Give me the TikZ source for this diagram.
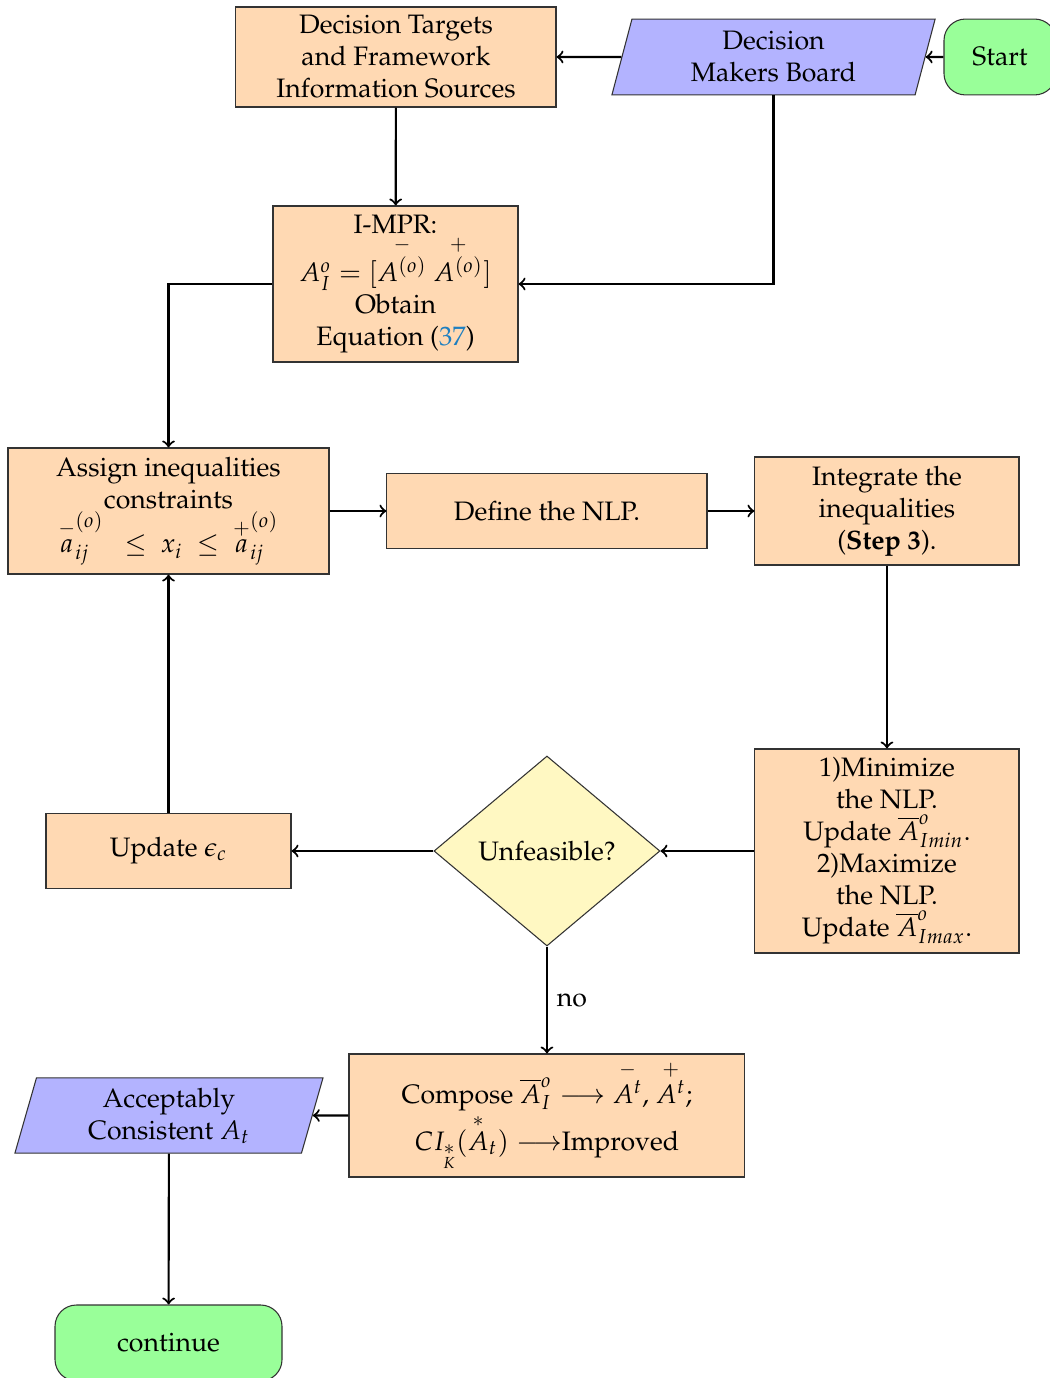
\documentclass[tikz,border=0pt]{standalone}
\usepackage[T1]{fontenc}
\usepackage{mathpazo}
\usepackage{amsmath}
\usepackage{xcolor}
\usepackage{tikz}
\usetikzlibrary{positioning, calc, shapes.geometric}
\definecolor{procfill}{HTML}{FFD9B3}
\definecolor{iofill}  {HTML}{B3B3FF}
\definecolor{termfill}{HTML}{99FF99}
\definecolor{decfill} {HTML}{FFF8C2}
\definecolor{linkblue}{HTML}{1E7FC0}
\tikzset{
  procbox/.style={
    draw=black!80, rectangle, fill=procfill,
    align=center, inner sep=2pt
  },
  iobox/.style={
    draw=black!80, trapezium, trapezium left angle=72,
    trapezium right angle=108, trapezium stretches body,
    fill=iofill, align=center, inner sep=2pt
  },
  termbox/.style={
    draw=black!80, rectangle, rounded corners=8pt,
    fill=termfill, align=center
  },
  decbox/.style={
    draw=black!80, diamond, fill=decfill,
    align=center, inner sep=1pt
  },
  flowline/.style={thick, ->}
}

\begin{document}
\begin{tikzpicture}[x=1cm, y=1cm]
\useasboundingbox (0,0) rectangle (13.826,-18.162);

\node[procbox, minimum width=4.218cm, minimum height=1.318cm] (targets) at (5.219,-0.751)
  {Decision Targets\\and Framework\\Information Sources};
\node[iobox, minimum width=4.26cm, minimum height=1.0cm] (board) at (10.195,-0.751)
  {Decision\\Makers Board};
\node[termbox, minimum width=1.476cm, minimum height=1.0cm] (start) at (13.18,-0.751) {Start};

\node[procbox, minimum width=3.229cm, minimum height=2.056cm] (impr) at (5.213,-3.743)
  {I-MPR:\\$A_I^o=[\overset{-}{A^{(o)}}\ \overset{+}{A^{(o)}}]$\\Obtain\\Equation (\textcolor{linkblue}{37})};

\node[procbox, minimum width=4.231cm, minimum height=1.661cm] (assign) at (2.221,-6.735)
  {Assign inequalities\\constraints\\
   $\overset{-}{a}_{ij}^{(o)}\ \ \leq\ x_i\ \leq\ \overset{+}{a}_{ij}^{(o)}$};
\node[procbox, minimum width=4.218cm, minimum height=1.0cm] (define) at (7.209,-6.735)
  {Define the NLP.};
\node[procbox, minimum width=3.48cm, minimum height=1.423cm] (integrate) at (11.69,-6.735)
  {Integrate the\\inequalities\\(\textbf{Step 3}).};

\node[procbox, minimum width=3.48cm, minimum height=2.689cm] (minmax) at (11.69,-11.216)
  {1)Minimize\\the NLP.\\Update $\overline{A}^o_{Imin}$.\\2)Maximize\\the NLP.\\Update $\overline{A}^o_{Imax}$.};
\node[decbox, minimum width=2.979cm, minimum height=2.504cm] (feas) at (7.209,-11.216)
  {Unfeasible?};
\node[procbox, minimum width=3.229cm, minimum height=1.0cm] (update) at (2.221,-11.216)
  {Update $\epsilon_c$};

\node[procbox, minimum width=5.219cm, minimum height=1.621cm] (compose) at (7.209,-14.702)
  {Compose $\overline{A}^o_I\longrightarrow\overset{-}{A^t}$, $\overset{+}{A^t}$;\\
   $CI_{\underset{K}{*}}(\overset{*}{A}_t)\longrightarrow$Improved};
\node[iobox, minimum width=4.06cm, minimum height=0.99cm] (accept) at (2.227,-14.702)
  {Acceptably\\Consistent $A_t$};
\node[termbox, minimum width=2.992cm, minimum height=1.0cm] (cont) at (2.221,-17.70)
  {continue};

% top row
\draw[flowline] (start) -- (board);
\draw[flowline] (board) -- (targets);
\draw[flowline] (targets) -- (impr);
\draw[flowline] (board.south) |- (impr.east);
\draw[flowline] (impr.west) -| (assign.north);

% middle row
\draw[flowline] (assign) -- (define);
\draw[flowline] (define) -- (integrate);
\draw[flowline] (integrate) -- (minmax);

% loop
\draw[flowline] (minmax) -- (feas);
\draw[flowline] (feas) -- (update);
\draw[flowline] (update) -- (assign);

% exit
\draw[flowline] (feas) -- node[right] {no} (compose);
\draw[flowline] (compose) -- (accept);
\draw[flowline] (accept) -- (cont);

\end{tikzpicture}
\end{document}
